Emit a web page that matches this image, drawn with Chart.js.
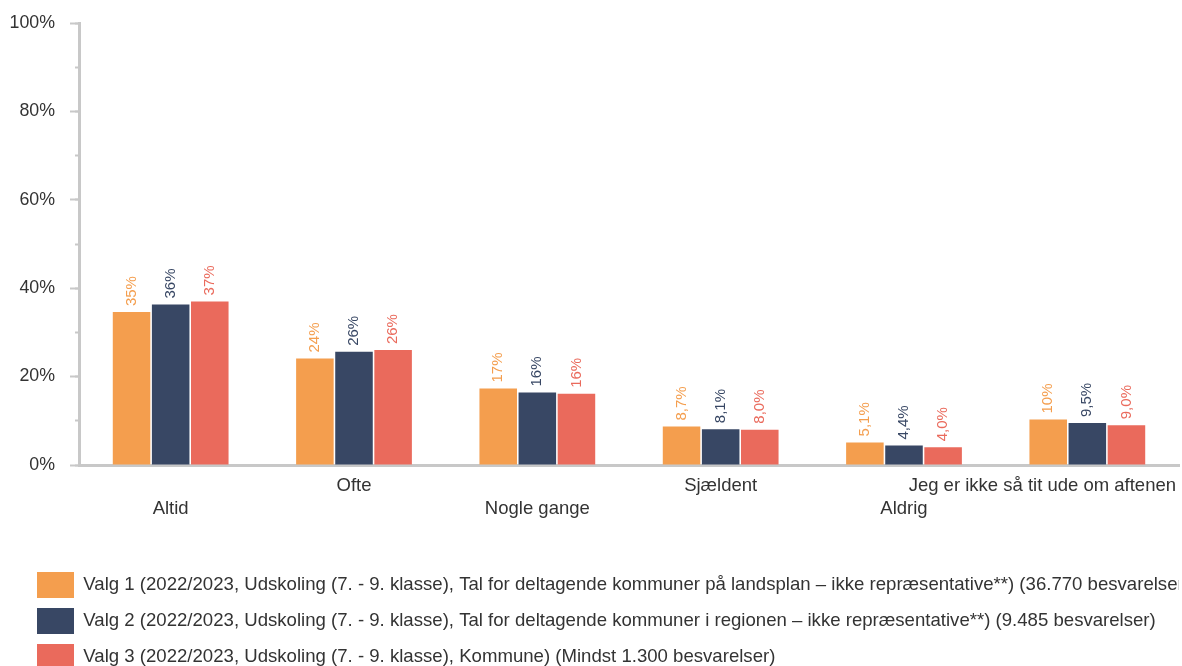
<!DOCTYPE html>
<html>
<head>
<meta charset="utf-8">
<script src="https://cdn.jsdelivr.net/npm/chart.js@4.4.1/dist/chart.umd.min.js"></script>
<style>
  html, body { margin: 0; padding: 0; overflow: hidden; background: #fff; }
  #wrap { width: 1182px; height: 680px; position: relative; }
</style>
</head>
<body>
<div id="wrap"><canvas id="chart"></canvas></div>
<script>
const categories = ['Altid', 'Ofte', 'Nogle gange', 'Sjældent', 'Aldrig', 'Jeg er ikke så tit ude om aftenen'];
const seriesNames = [
  'Valg 1 (2022/2023, Udskoling (7. - 9. klasse), Tal for deltagende kommuner på landsplan – ikke repræsentative**) (36.770 besvarelser)',
  'Valg 2 (2022/2023, Udskoling (7. - 9. klasse), Tal for deltagende kommuner i regionen – ikke repræsentative**) (9.485 besvarelser)',
  'Valg 3 (2022/2023, Udskoling (7. - 9. klasse), Kommune) (Mindst 1.300 besvarelser)'
];
const valg1 = [34.6, 24.1, 17.3, 8.7, 5.1, 10.3];
const valg2 = [36.3, 25.6, 16.4, 8.1, 4.4, 9.5];
const valg3 = [37.0, 26.0, 16.1, 8.0, 4.0, 9.0];
const seriesColors = ['#F49E4E', '#384764', '#EA6A5C'];

const FONT = '"Liberation Sans", Arial, sans-serif';
Chart.defaults.font.family = FONT;
Chart.defaults.color = '#333';

// danish style: 35%, 8,7%
const fmt = (v) => (v >= 10 ? Math.round(v) + '%' : v.toFixed(1).replace('.', ',') + '%');

const valueLabels = {
  id: 'valueLabels',
  afterDatasetsDraw(chart) {
    const ctx = chart.ctx;
    ctx.save();
    ctx.font = '15px ' + FONT;
    ctx.textAlign = 'left';
    ctx.textBaseline = 'middle';
    chart.data.datasets.forEach((ds, di) => {
      chart.getDatasetMeta(di).data.forEach((bar, i) => {
        ctx.save();
        ctx.translate(bar.x, bar.y - 6);
        ctx.rotate(-Math.PI / 2);
        ctx.fillStyle = ds.backgroundColor;
        ctx.fillText(fmt(ds.data[i]), 0, 0);
        ctx.restore();
      });
    });
    ctx.restore();
  }
};

// staggered category labels, last one kept inside the canvas
const categoryLabels = {
  id: 'categoryLabels',
  afterLayout(chart) {
    // legend starts a bit in from the left edge, the y labels do not
    chart.legend.left += 27;
  },
  afterDraw(chart) {
    const { ctx, chartArea, scales: { x } } = chart;
    ctx.save();
    ctx.font = '18.5px ' + FONT;
    ctx.fillStyle = '#333';
    ctx.textAlign = 'left';
    ctx.textBaseline = 'middle';
    categories.forEach((name, i) => {
      const w = ctx.measureText(name).width;
      const left = Math.min(x.getPixelForTick(i) - w / 2, chart.width - 6 - w);
      ctx.fillText(name, left, chartArea.bottom + (i % 2 === 0 ? 44 : 21));
    });
    ctx.restore();
  }
};

new Chart(document.getElementById('chart'), {
  type: 'bar',
  data: {
    labels: categories,
    datasets: [valg1, valg2, valg3].map((data, i) => ({
      label: seriesNames[i],
      data,
      backgroundColor: seriesColors[i],
      categoryPercentage: 0.64,
      barPercentage: 0.96
    }))
  },
  options: {
    responsive: true,
    maintainAspectRatio: false,
    animation: false,
    layout: { padding: { top: 23, left: 0, right: 3, bottom: 0 } },
    plugins: {
      tooltip: { enabled: false },
      legend: {
        position: 'bottom',
        align: 'start',
        labels: { boxWidth: 37, boxHeight: 26, padding: 10, font: { size: 18.6 }, color: '#333' }
      }
    },
    scales: {
      x: {
        grid: { display: false, drawTicks: false },
        border: { color: '#c8c8c8', width: 3 },
        ticks: { display: false },
        afterFit: (s) => { s.height = 97; }
      },
      y: {
        position: 'left',
        weight: 0,
        min: 0,
        max: 100,
        ticks: { stepSize: 20, padding: 15, font: { size: 17.8 }, color: '#333', callback: (v) => v + '%' },
        grid: { drawOnChartArea: false, tickLength: 9, tickColor: '#c8c8c8', tickWidth: 2 },
        border: { color: '#c8c8c8', width: 3 },
        afterFit: (s) => { s.width = 79; s.paddingTop = 0; s.paddingBottom = 0; }
      },
      yMinor: {
        position: 'left',
        weight: -1,
        min: 0,
        max: 100,
        ticks: { display: false, stepSize: 10 },
        grid: { drawOnChartArea: false, tickLength: 4, tickColor: '#c8c8c8', tickWidth: 2 },
        border: { display: false },
        afterFit: (s) => { s.width = 0; s.paddingTop = 0; s.paddingBottom = 0; }
      }
    }
  },
  plugins: [valueLabels, categoryLabels]
});
</script>
</body>
</html>
